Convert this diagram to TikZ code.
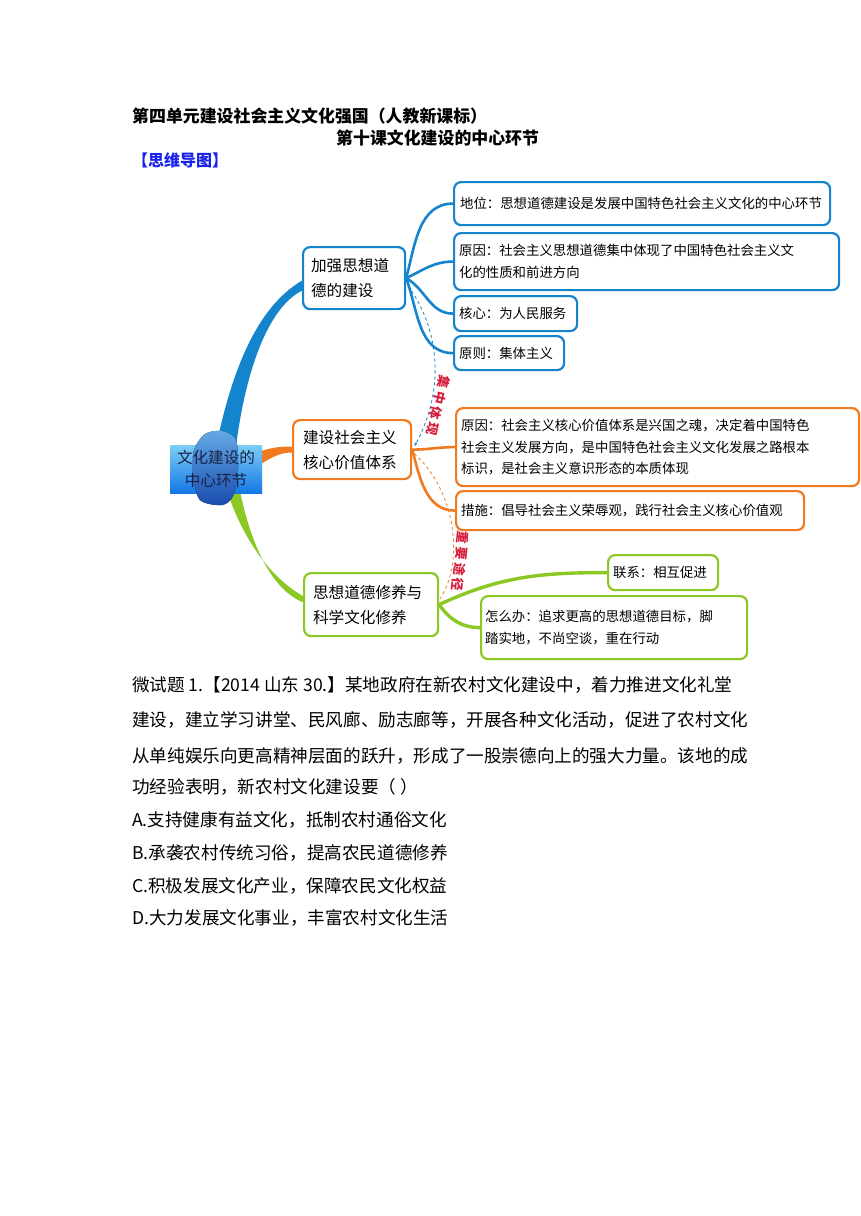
\documentclass[tikz,border=0pt]{standalone}
\usepackage{fontspec}
\setmainfont{Noto Sans CJK SC}
\usetikzlibrary{positioning,calc,arrows.meta,backgrounds}
\definecolor{mapblue}{RGB}{20,132,204}
\definecolor{maporange}{RGB}{240,122,32}
\definecolor{mapgreen}{RGB}{140,200,35}
\definecolor{linkred}{RGB}{214,30,60}
\definecolor{titleblue}{RGB}{25,35,235}
\definecolor{corelight}{RGB}{125,205,245}
\definecolor{coredark}{RGB}{20,120,230}
\definecolor{bloblight}{RGB}{100,170,228}
\definecolor{blobdark}{RGB}{25,75,175}

\begin{document}
\begin{tikzpicture}[x=1pt,y=-1pt,
    hub/.style={draw,line width=2.2pt,rounded corners=7pt,fill=white,anchor=north west,
      align=left,inner xsep=8pt,inner ysep=0pt,font=\fontsize{15.6}{25}\selectfont},
    leaf/.style={draw,line width=2.2pt,rounded corners=7pt,fill=white,anchor=north west,
      align=left,inner xsep=5pt,inner ysep=0pt,font=\fontsize{13.4}{21.5}\selectfont},
    twig/.style={line width=2.6pt},
    link/.style={dashed,line width=0.8pt},
    linktext/.style={font=\bfseries\fontsize{13}{13}\selectfont,text=linkred,inner sep=1pt},
    textline/.style={anchor=west,inner sep=0pt,font=\fontsize{17.6}{17.6}\selectfont}]
  \useasboundingbox (0,0) rectangle (860,1216);

  % Heading
  \node[textline,font=\bfseries\fontsize{16.9}{16.9}\selectfont] (unit) at (132,116) {第四单元建设社会主义文化强国（人教新课标）};
  \node[textline,font=\bfseries\fontsize{16.9}{16.9}\selectfont] (lesson) at (336,138) {第十课文化建设的中心环节};
  \node[textline,text=titleblue,font=\bfseries\fontsize{16}{16}\selectfont] (maphead) at (132,160) {【思维导图】};

  % Centre
  \node[minimum width=92pt,minimum height=48pt,inner sep=0pt,top color=corelight,bottom color=coredark] (corebox) at (216,469) {};
  \fill[top color=bloblight,bottom color=blobdark,shift={(corebox.center)}]
    plot[smooth cycle] coordinates {(-11,-35) (6,-38) (20,-29) (22,1) (17,27) (6,36) (-16,31) (-23,6) (-22,-19)};
  \node[align=center,text={rgb,255:red,25;green,35;blue,70},font=\fontsize{15.6}{23}\selectfont] (core) at (corebox.center) {文化建设的\\中心环节};

  % Hubs
  \node[hub,draw=mapblue,text width=86pt,minimum height=62pt] (hubA) at (302,246) {加强思想道\\德的建设};
  \node[hub,draw=maporange,text width=98pt,minimum height=59pt,inner xsep=10pt] (hubB) at (292,419) {建设社会主义\\核心价值体系};
  \node[hub,draw=mapgreen,text width=116pt,minimum height=63pt,inner xsep=9pt] (hubC) at (303,572) {思想道德修养与\\科学文化修养};

  % Leaves
  \node[leaf,draw=mapblue,text width=364pt,minimum height=43pt,inner xsep=6pt] (leafA1) at (453,181) {地位：思想道德建设是发展中国特色社会主义文化的中心环节};
  \node[leaf,draw=mapblue,text width=375pt,minimum height=57pt] (leafA2) at (453,232) {原因：社会主义思想道德集中体现了中国特色社会主义文\\化的性质和前进方向};
  \node[leaf,draw=mapblue,text width=113pt,minimum height=35pt] (leafA3) at (453,295) {核心：为人民服务};
  \node[leaf,draw=mapblue,text width=100pt,minimum height=34pt] (leafA4) at (453,335) {原则：集体主义};

  \node[leaf,draw=maporange,text width=393pt,minimum height=78pt] (leafB1) at (455,407) {原因：社会主义核心价值体系是兴国之魂，决定着中国特色\\社会主义发展方向，是中国特色社会主义文化发展之路根本\\标识，是社会主义意识形态的本质体现};
  \node[leaf,draw=maporange,text width=338pt,minimum height=39pt] (leafB2) at (455,490) {措施：倡导社会主义荣辱观，践行社会主义核心价值观};

  \node[leaf,draw=mapgreen,text width=100pt,minimum height=35pt] (leafC1) at (607,554) {联系：相互促进};
  \node[leaf,draw=mapgreen,text width=258pt,minimum height=63pt,inner xsep=4pt] (leafC2) at (480,595) {怎么办：追求更高的思想道德目标，脚\\踏实地，不尚空谈，重在行动};

  \begin{scope}[on background layer]
    \fill[white] (0,0) rectangle (860,1216);
    % Main branches
    \fill[mapblue] ($(corebox.north)+(0,2)$) .. controls (228,390) and (250,310) .. ($(hubA.west)+(1,2)$)
      -- ($(hubA.west)+(1,12)$) .. controls (262,310) and (243,390) .. ($(corebox.north)+(20,2)$) -- cycle;
    \fill[maporange] ($(corebox.east)+(-4,-17)$) .. controls (270,448) and (280,446) .. ($(hubB.west)+(1,-3)$)
      -- ($(hubB.west)+(1,3)$) .. controls (280,452) and (270,458) .. ($(corebox.east)+(-4,-3)$) -- cycle;
    \fill[mapgreen] ($(corebox.south)+(11,-2)$) .. controls (240,530) and (265,575) .. ($(hubC.west)+(1,-8)$)
      -- ($(hubC.west)+(1,-2)$) .. controls (270,590) and (250,540) .. ($(corebox.south)+(24,-2)$) -- cycle;

    % Twigs
    \draw[twig,mapblue] (hubA.east) to[out=75,in=180] (leafA1.west);
    \draw[twig,mapblue] (hubA.east) to[out=25,in=180] (leafA2.west);
    \draw[twig,mapblue] (hubA.east) to[out=-30,in=180] (leafA3.west);
    \draw[twig,mapblue] (hubA.east) to[out=-70,in=180] (leafA4.west);
    \draw[twig,maporange] (hubB.east) to[out=0,in=180] (leafB1.west);
    \draw[twig,maporange] (hubB.east) to[out=-75,in=180] (leafB2.west);
    \draw[twig,mapgreen,line width=3.4pt] (hubC.east) to[out=25,in=180] (leafC1.west);
    \draw[twig,mapgreen,line width=3.4pt] (hubC.east) to[out=-55,in=180] (leafC2.west);
  \end{scope}

  % Links
  \draw[link,mapblue,-{Latex[length=4pt,width=3pt]}] ($(hubA.east)+(2,8)$) .. controls (440,330) and (445,390) .. ($(hubB.east)+(2,-3)$)
    node[linktext,pos=0.75,sloped,allow upside down,above] (linkA) {集\hspace{3pt}中\hspace{3pt}体\hspace{3pt}现};
  \draw[link,maporange] ($(hubB.east)+(2,4)$) .. controls (455,490) and (465,560) .. ($(hubC.east)+(1,-6)$)
    node[linktext,pos=0.72,sloped,allow upside down,above] (linkB) {重\hspace{3pt}要\hspace{3pt}途\hspace{3pt}径};

  % Question
  \node[textline] (q1) at (132,685) {微试题 1.【2014 山东 30.】某地政府在新农村文化建设中，着力推进文化礼堂};
  \node[textline] (q2) at (132,720) {建设，建立学习讲堂、民风廊、励志廊等，开展各种文化活动，促进了农村文化};
  \node[textline] (q3) at (132,756) {从单纯娱乐向更高精神层面的跃升，形成了一股崇德向上的强大力量。该地的成};
  \node[textline] (q4) at (132,787) {功经验表明，新农村文化建设要（ ）};
  \node[textline] (optA) at (132,820) {A.支持健康有益文化，抵制农村通俗文化};
  \node[textline] (optB) at (132,853) {B.承袭农村传统习俗，提高农民道德修养};
  \node[textline] (optC) at (132,886) {C.积极发展文化产业，保障农民文化权益};
  \node[textline] (optD) at (132,918) {D.大力发展文化事业，丰富农村文化生活};
\end{tikzpicture}
\end{document}
